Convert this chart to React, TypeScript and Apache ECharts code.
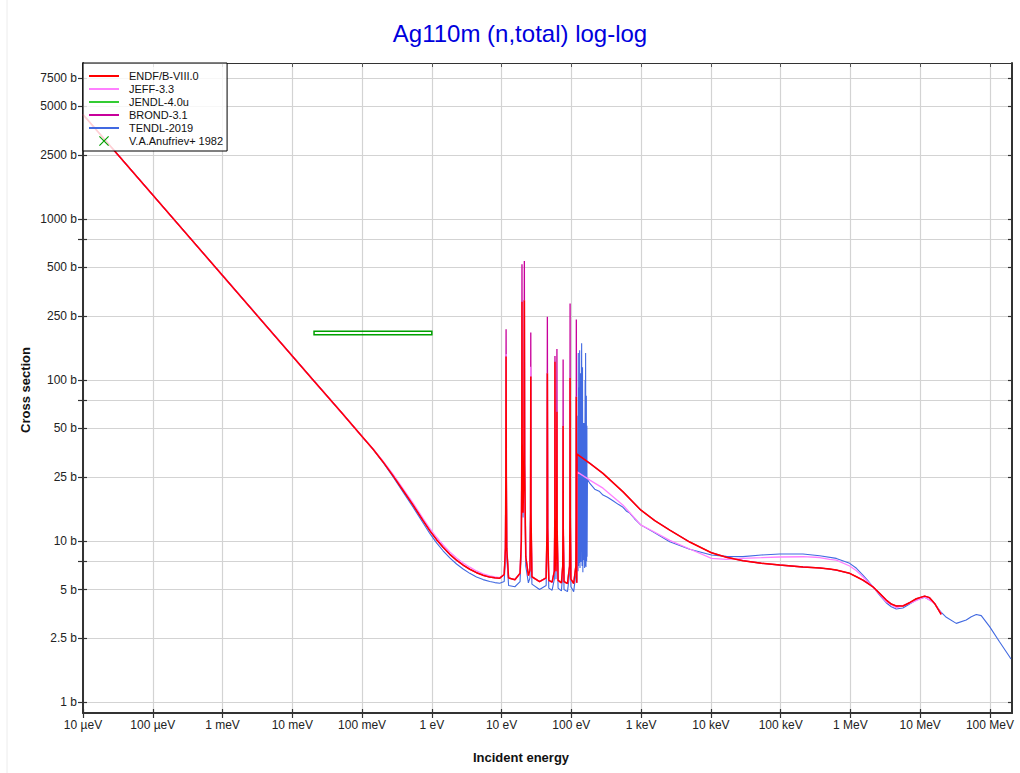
import React, { useEffect, useRef } from 'react';
import * as echarts from 'echarts';

const FONT = '"Liberation Sans", Arial, Helvetica, sans-serif';

// ---- axes ----
const xTickValues = [1e-5, 1e-4, 1e-3, 1e-2, 1e-1, 1, 10, 100, 1e3, 1e4, 1e5, 1e6, 1e7, 1e8];
const xTickLabels = ['10 µeV', '100 µeV', '1 meV', '10 meV', '100 meV', '1 eV', '10 eV', '100 eV', '1 keV', '10 keV', '100 keV', '1 MeV', '10 MeV', '100 MeV'];
const yTickValues = [1, 2.5, 5, 10, 25, 50, 100, 250, 500, 1000, 2500, 5000, 7500];
const yTickLabels = ['1 b', '2.5 b', '5 b', '10 b', '25 b', '50 b', '100 b', '250 b', '500 b', '1000 b', '2500 b', '5000 b', '7500 b'];
const yMinorTicks = [7.5, 75, 750];
const xRange = [1e-5, 2.07e8];
const yRange = [0.855, 9310];

// ---- series names ----
const names = ['ENDF/B-VIII.0', 'JEFF-3.3', 'JENDL-4.0u', 'BROND-3.1', 'TENDL-2019', 'V.A.Anufriev+ 1982'];
const colors = ['#ff0000', '#ff80ff', '#33cc33', '#c8009b', '#4169e1', '#00a000'];

// ---- data: [energy eV, cross section b] ----
const endfLow: [number, number][] = [
  [1e-5, 4460], [1e-3, 446], [0.02, 99.7], [0.05, 63.3], [0.1, 44.6], [0.144, 37.2], [0.2, 31.0],
  [0.279, 25.4], [0.388, 20.6], [0.539, 16.7], [0.75, 13.4], [0.935, 11.6], [1.17, 10.2], [1.45, 9.14],
  [1.81, 8.27], [2.26, 7.6], [2.81, 7.09], [3.5, 6.68], [4.37, 6.36], [5.43, 6.13], [6.78, 5.97],
  [8.0, 5.91], [9.4, 5.88],
];
const jeffLow: [number, number][] = [
  [1e-5, 4460], [1e-3, 446], [0.02, 99.7], [0.05, 63.3], [0.1, 44.6], [0.144, 37.3], [0.2, 31.3],
  [0.279, 25.9], [0.388, 21.1], [0.539, 17.2], [0.75, 13.8], [0.935, 12.0], [1.17, 10.55], [1.45, 9.45],
  [1.81, 8.55], [2.26, 7.85], [2.81, 7.3], [3.5, 6.88], [4.37, 6.52], [5.43, 6.26], [6.78, 6.08],
  [8.0, 5.99], [9.4, 5.93],
];
const tendlLow: [number, number][] = [
  [1e-5, 4460], [1e-3, 446], [0.02, 99.7], [0.05, 63.3], [0.1, 44.6], [0.144, 37.1], [0.2, 30.8],
  [0.279, 25.0], [0.388, 20.1], [0.539, 16.2], [0.75, 12.95], [0.935, 11.15], [1.17, 9.75], [1.45, 8.7],
  [1.81, 7.85], [2.26, 7.2], [2.81, 6.7], [3.5, 6.3], [4.37, 5.98], [5.43, 5.76], [6.78, 5.6],
  [8.0, 5.52], [9.4, 5.47],
];

// resolved resonances
const resE = [11.6, 19.6, 21.2, 26.2, 45.3, 58.2, 62.1, 76.2, 95.9, 117.8];
const endfPeak = [140, 306, 313, 105, 110, 130, 63.5, 51.8, 103, 78.7];
const jeffPeak = [145, 306, 313, 121, 110, 130, 63.5, 51.8, 103, 78.7];
const brondPeak = [207, 524, 548, 197, 247, 141, 156, 134, 299, 238];

const resBase: [number, number][] = [
  [10.9, 6.2], [11.35, 9], [11.5, 25], [11.7, 25], [11.85, 9], [12.6, 5.9], [15.5, 5.75],
  [18.4, 6.3], [19.2, 10], [19.45, 30], [19.75, 40], [20.3, 15], [20.9, 30], [21.4, 30], [22.2, 8], [24.2, 6.1],
  [25.5, 6.6], [26.0, 15], [26.4, 15], [27.2, 6.0], [35, 5.6],
  [43.5, 5.9], [44.8, 12], [45.8, 12], [47.5, 5.7], [53, 5.55],
  [57.0, 6.5], [57.9, 14], [58.5, 14], [60.2, 6.5], [61.6, 12], [62.6, 12], [64.5, 5.7], [72, 5.5],
  [75.2, 7], [75.8, 12], [76.6, 12], [78.5, 5.6], [88, 5.45],
  [94.3, 7], [95.3, 14], [96.5, 14], [98.5, 5.8], [108, 5.45],
  [116, 7], [117.2, 14], [118.4, 10], [119.3, 5.5],
];
const tendlResBase: [number, number][] = [
  [10.9, 5.6], [11.35, 8], [11.5, 25], [11.7, 25], [11.85, 8], [12.6, 5.3], [15.5, 5.2],
  [18.4, 5.6], [19.2, 9], [19.45, 30], [19.75, 40], [20.3, 14], [20.9, 30], [21.4, 30], [22.2, 7], [24.2, 5.5],
  [25.5, 5.9], [26.0, 14], [26.4, 14], [27.2, 5.4], [35, 5.0],
  [43.5, 5.3], [44.8, 11], [45.8, 11], [47.5, 5.1], [53, 4.95],
  [57.0, 5.8], [57.9, 13], [58.5, 13], [60.2, 5.8], [61.6, 11], [62.6, 11], [64.5, 5.1], [72, 4.9],
  [75.2, 6.3], [75.8, 11], [76.6, 11], [78.5, 5.0], [88, 4.85],
  [94.3, 6.3], [95.3, 13], [96.5, 13], [98.5, 5.2], [108, 4.85],
  [116, 6.3], [117.2, 13], [118.4, 9],
];
const tendlCluster: [number, number][] = [
  [119.5, 5.5], [121, 30], [122.3, 7.3], [123.5, 60], [124.6, 6.5], [125.6, 147], [127, 7.0], [128.5, 90],
  [130, 7.3], [131.5, 153], [133, 6.8], [135, 110], [137, 7.4], [140.4, 169], [142.5, 7.0], [144.5, 120],
  [146.2, 6.4], [148, 54], [150, 7.6], [152.8, 54], [155, 6.8], [157.5, 100], [158.8, 7], [160, 147],
  [162, 6.9], [164, 80], [165.5, 7.5], [166.9, 52], [168, 8],
];

// fast region
const endfFast: [number, number][] = [
  [120.2, 34.7], [184, 30.4], [284, 26.3], [551, 20.2], [986, 15.6], [1567, 13.4], [2570, 11.7],
  [4970, 9.86], [10170, 8.46], [16670, 7.93], [28800, 7.55], [52800, 7.28], [96800, 7.1], [209000, 6.9],
  [362000, 6.81], [504000, 6.7], [628000, 6.6], [975000, 6.3], [1.22e6, 6.0], [1.51e6, 5.72],
  [1.78e6, 5.46], [2.1e6, 5.2], [2.62e6, 4.73], [3.26e6, 4.3], [3.85e6, 4.06], [4.54e6, 3.95],
  [5.65e6, 3.95], [7.05e6, 4.14], [8.79e6, 4.38], [11.6e6, 4.55], [13.6e6, 4.45], [16.1e6, 4.1], [2e7, 3.5],
];
const jeffFast: [number, number][] = [
  [121, 26.9], [184, 23.9], [284, 21.3], [551, 16.7], [986, 12.6], [1480, 11.5], [2570, 10.1],
  [4970, 8.92], [10200, 7.81], [16700, 7.7], [28800, 7.81], [52800, 7.88], [96800, 7.96], [209000, 7.99],
  [362000, 7.9], [504000, 7.7], [628000, 7.62], [975000, 7.0], [1.22e6, 6.54], [1.51e6, 6.0],
  [2.1e6, 5.2], [3.26e6, 4.2], [4.54e6, 3.85], [7.05e6, 4.1], [11.6e6, 4.5], [16.1e6, 4.1], [2e7, 3.56],
];
const tendlFast: [number, number][] = [
  [170, 24.2], [184, 22.8], [216, 21.0], [250, 20.4], [284, 19.3], [330, 18.7], [395, 17.8], [470, 16.9],
  [550, 16.2], [620, 15.3], [687, 14.9], [800, 13.8], [986, 12.6], [1480, 11.4], [2570, 9.9], [4970, 8.88],
  [10200, 8.19], [16700, 8.03], [28800, 8.0], [52800, 8.19], [96800, 8.3], [209000, 8.3], [362000, 8.1],
  [628000, 7.8], [975000, 7.27], [1.22e6, 6.77], [1.51e6, 6.15], [1.78e6, 5.67], [2.1e6, 5.2],
  [2.62e6, 4.62], [3.26e6, 4.14], [3.85e6, 3.91], [4.54e6, 3.78], [5.65e6, 3.84], [7.05e6, 4.06],
  [8.79e6, 4.3], [11.6e6, 4.47], [15.2e6, 4.2], [19.6e6, 3.64], [23.7e6, 3.36], [32.9e6, 3.08],
  [45.7e6, 3.23], [54e6, 3.39], [63.7e6, 3.5], [75e6, 3.44], [98.9e6, 2.94], [137e6, 2.37],
  [191e6, 1.91], [2e8, 1.85],
];

// EXFOR: V.A.Anufriev+ 1982
const exforEmin = [0.0205];
const exforEmax = [1.0];
const exforXs = [196];
const exforDxs = [5];

// ---- helpers ----
const lg = (v: number) => Math.log10(v);
const withPeaks = (base: [number, number][], e: number[], s: number[]) =>
  [...base, ...e.map((x, i) => [x, s[i]] as [number, number])].sort((a, b) => a[0] - b[0]);
const toLog = (pts: [number, number][]) => pts.map(([e, s]) => [lg(e), lg(s)]);

const xTickLog = xTickValues.map(lg);
const yLabelLog = yTickValues.map(lg);
const yTickLog = [...yTickValues, ...yMinorTicks].map(lg).sort((a, b) => a - b);

const BOUNDS = 'M0,0L0.01,0L0.01,0.01Z M30,12L29.99,12L29.99,11.99Z ';
const lineIcon = 'path://' + BOUNDS + 'M0,5L30,5L30,7L0,7Z';
const xIcon = 'path://' + BOUNDS + 'M10.8,1L20,10.2L19.2,11L10,1.8Z M19.2,1L20,1.8L10.8,11L10,10.2Z';

export default function App() {
  const ref = useRef<HTMLDivElement>(null);
  useEffect(() => {
    if (!ref.current) return;
    const chart = echarts.init(ref.current, null, { renderer: 'svg' });

    const endfData = toLog([...endfLow, ...withPeaks(resBase, resE, endfPeak), ...endfFast]);
    const jeffData = toLog([...jeffLow, ...withPeaks(resBase, resE, jeffPeak), ...jeffFast]);
    const brondData = toLog([...endfLow, ...withPeaks(resBase, resE, brondPeak), ...endfFast]);
    const tendlData = toLog([...tendlLow, ...withPeaks(tendlResBase, resE, endfPeak), ...tendlCluster, ...tendlFast]);

    const xBase = { type: 'value', min: lg(xRange[0]), max: lg(xRange[1]) };
    const yBase = { type: 'value', min: lg(yRange[0]), max: lg(yRange[1]) };
    const axisLineStyle = { color: '#333', width: 2 };
    const xFmt = (v: number) => {
      const i = xTickLog.findIndex((t) => Math.abs(t - v) < 1e-6);
      return i >= 0 ? xTickLabels[i] : '';
    };
    const yFmt = (v: number) => {
      const i = yLabelLog.findIndex((t) => Math.abs(t - v) < 1e-6);
      return i >= 0 ? yTickLabels[i] : '';
    };
    const labelStyle = { fontSize: 12, color: '#222', fontFamily: FONT };

    const lineSeries = (name: string, color: string, data: number[][], width: number) => ({
      type: 'line',
      name,
      data,
      symbol: 'none',
      showSymbol: false,
      silent: true,
      clip: true,
      lineStyle: { color, width },
      itemStyle: { color },
      xAxisIndex: 0,
      yAxisIndex: 0,
    });

    const option: any = {
      animation: false,
      backgroundColor: '#fff',
      grid: { left: 83, right: 8, top: 63, bottom: 60 },
      xAxis: [
        {
          ...xBase,
          position: 'bottom',
          axisLine: { show: true, onZero: false, lineStyle: axisLineStyle },
          axisTick: { show: true, inside: false, length: 5, customValues: xTickLog, lineStyle: { color: '#333', width: 1.2 } },
          axisLabel: { show: true, customValues: xTickLog, formatter: xFmt, margin: 6, ...labelStyle },
          splitLine: { show: true, lineStyle: { color: '#d3d3d3', width: 1.2 } },
        },
        {
          ...xBase,
          position: 'top',
          axisLine: { show: true, onZero: false, lineStyle: { color: '#333', width: 1.2 } },
          axisTick: { show: true, inside: true, length: 4, customValues: xTickLog, lineStyle: { color: '#555' } },
          axisLabel: { show: false },
          splitLine: { show: false },
        },
        {
          ...xBase,
          position: 'bottom',
          axisLine: { show: false, onZero: false },
          axisTick: { show: true, inside: true, length: 4, customValues: xTickLog, lineStyle: { color: '#333', width: 1.2 } },
          axisLabel: { show: false },
          splitLine: { show: false },
        },
      ],
      yAxis: [
        {
          ...yBase,
          position: 'left',
          axisLine: { show: true, onZero: false, lineStyle: axisLineStyle },
          axisTick: { show: true, inside: false, length: 5, customValues: yTickLog, lineStyle: { color: '#333', width: 1.2 } },
          axisLabel: { show: true, customValues: yLabelLog, formatter: yFmt, margin: 6, ...labelStyle },
          splitLine: { show: true, lineStyle: { color: '#d3d3d3', width: 1.2 } },
        },
        {
          ...yBase,
          position: 'right',
          axisLine: { show: true, onZero: false, lineStyle: axisLineStyle },
          axisTick: { show: true, inside: true, length: 4, customValues: yTickLog, lineStyle: { color: '#333', width: 1.2 } },
          axisLabel: { show: false },
          splitLine: { show: false },
        },
        {
          ...yBase,
          position: 'left',
          axisLine: { show: false, onZero: false },
          axisTick: { show: true, inside: true, length: 4, customValues: yTickLog, lineStyle: { color: '#333', width: 1.2 } },
          axisLabel: { show: false },
          splitLine: { show: false },
        },
      ],
      legend: {
        left: 83,
        top: 63,
        orient: 'vertical',
        padding: [7, 4, 4, 6],
        itemGap: 1.0,
        itemWidth: 30,
        itemHeight: 12,
        selectedMode: false,
        backgroundColor: 'rgba(255,255,255,0.82)',
        borderColor: '#000',
        borderWidth: 1,
        borderRadius: 0,
        textStyle: { fontSize: 11, fontFamily: FONT, color: '#111', padding: [0, 0, 0, 5] },
        data: [
          { name: names[0], icon: lineIcon },
          { name: names[1], icon: lineIcon },
          { name: names[2], icon: lineIcon },
          { name: names[3], icon: lineIcon },
          { name: names[4], icon: lineIcon },
          { name: names[5], icon: xIcon },
        ],
      },
      graphic: [
        {
          type: 'line',
          shape: { x1: 7, y1: 0, x2: 7, y2: 773 },
          style: { stroke: '#ececec', lineWidth: 1 },
          silent: true,
        },
        {
          type: 'text',
          x: 520,
          y: 33,
          style: {
            text: 'Ag110m (n,total) log-log',
            fill: '#0000dd',
            fontSize: 24,
            fontFamily: FONT,
            align: 'center',
            verticalAlign: 'middle',
            textAlign: 'center',
            textVerticalAlign: 'middle',
          },
        },
        {
          type: 'text',
          x: 521,
          y: 757,
          style: {
            text: 'Incident energy',
            fill: '#111',
            fontSize: 13,
            fontWeight: 'bold',
            fontFamily: FONT,
            align: 'center',
            verticalAlign: 'middle',
            textAlign: 'center',
            textVerticalAlign: 'middle',
          },
        },
        {
          type: 'text',
          x: 25,
          y: 390,
          rotation: Math.PI / 2,
          style: {
            text: 'Cross section',
            fill: '#111',
            fontSize: 13,
            fontWeight: 'bold',
            fontFamily: FONT,
            align: 'center',
            verticalAlign: 'middle',
            textAlign: 'center',
            textVerticalAlign: 'middle',
          },
        },
      ],
      series: [
        lineSeries(names[4], colors[4], tendlData, 1.1),
        lineSeries(names[3], colors[3], brondData, 1.3),
        lineSeries(names[2], colors[2], [], 1.3),
        lineSeries(names[1], colors[1], jeffData, 1.3),
        lineSeries(names[0], colors[0], endfData, 1.5),
        {
          type: 'custom',
          name: names[5],
          silent: true,
          itemStyle: { color: colors[5] },
          xAxisIndex: 0,
          yAxisIndex: 0,
          encode: { x: [0, 1], y: [2, 3] },
          data: exforXs.map((s, i) => [lg(exforEmin[i]), lg(exforEmax[i]), lg(s - exforDxs[i]), lg(s + exforDxs[i])]),
          renderItem: (_params: any, api: any) => {
            const p1 = api.coord([api.value(0), api.value(3)]);
            const p2 = api.coord([api.value(1), api.value(2)]);
            return {
              type: 'rect',
              shape: { x: p1[0], y: p1[1], width: p2[0] - p1[0], height: p2[1] - p1[1] },
              style: { fill: 'none', stroke: colors[5], lineWidth: 1.5 },
            };
          },
        },
      ],
    };
    chart.setOption(option);
    return () => chart.dispose();
  }, []);

  return (
    <div
      ref={ref}
      style={{ position: 'fixed', left: 0, top: 0, width: 1020, height: 773, background: '#fff' }}
    />
  );
}
